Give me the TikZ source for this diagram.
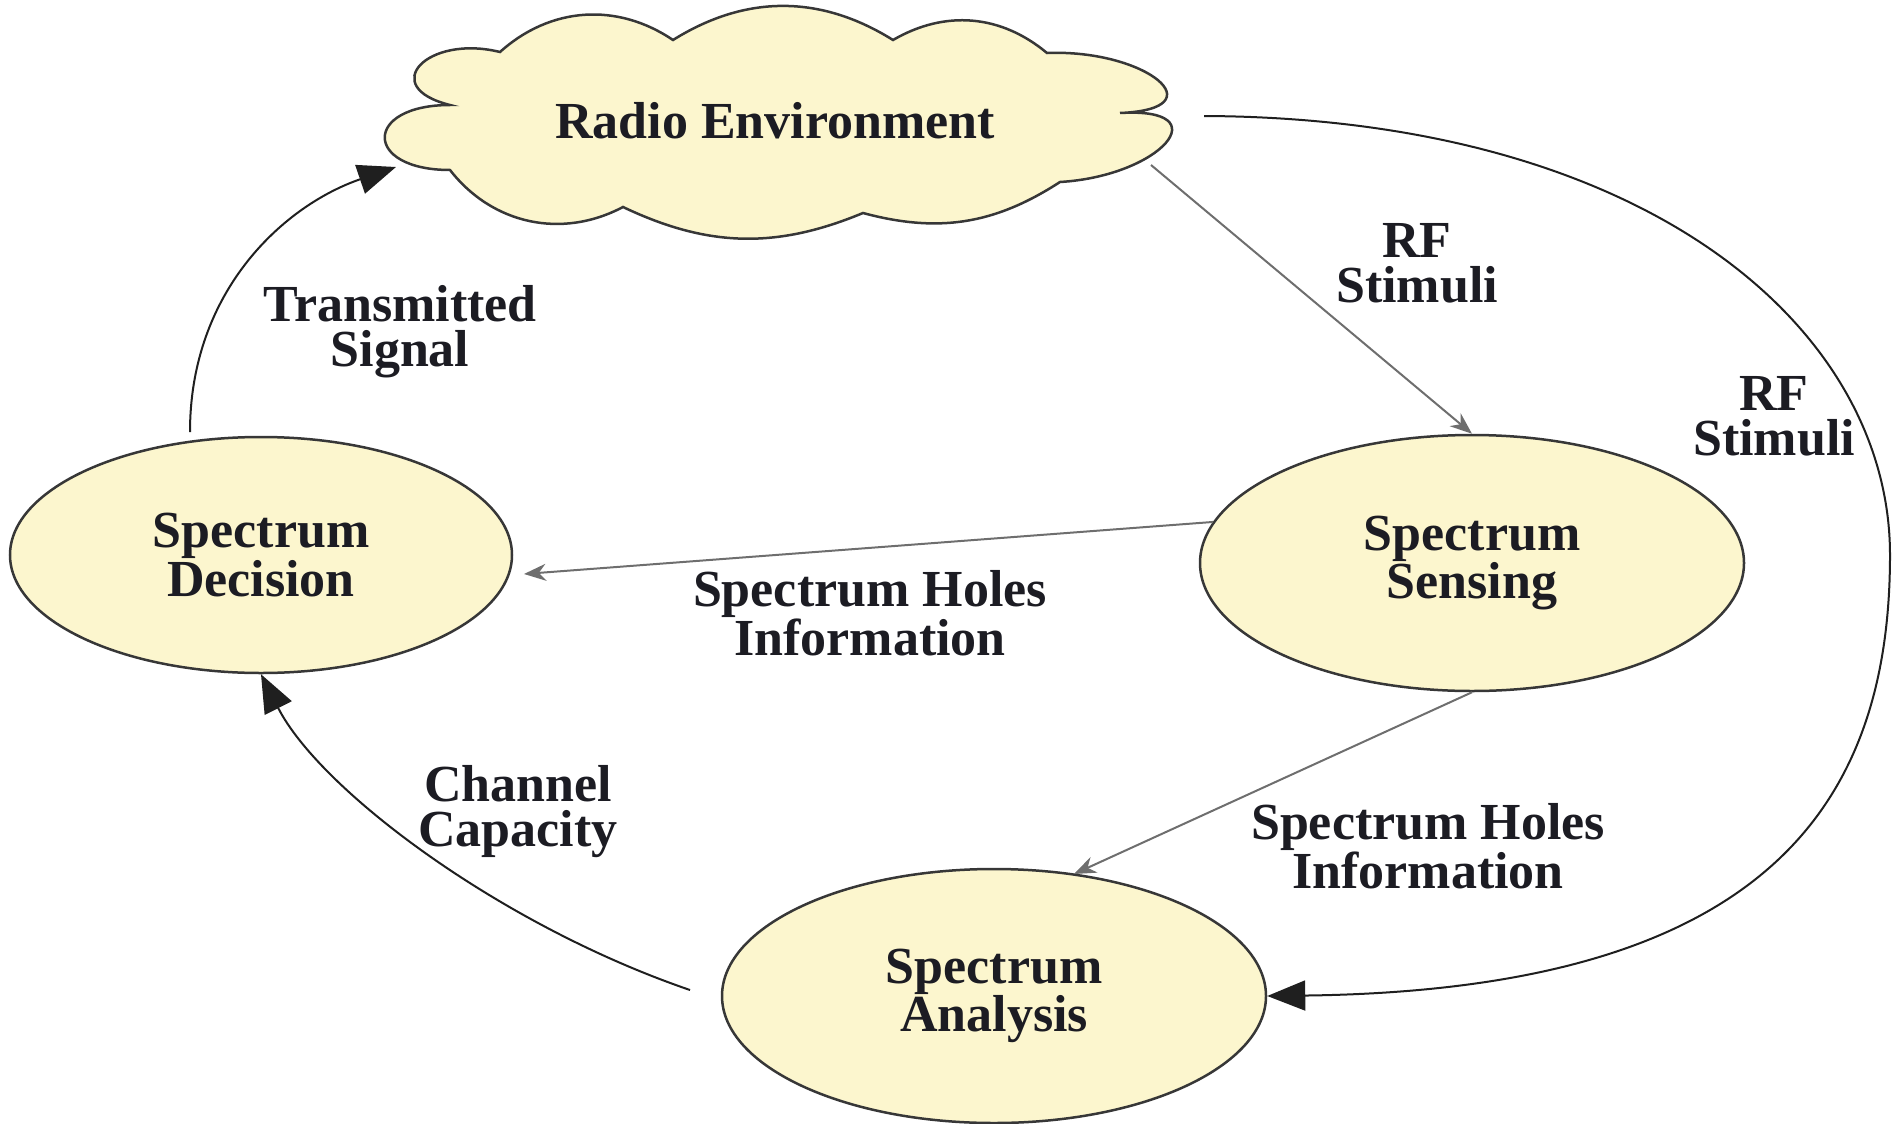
\documentclass[tikz,border=0pt]{standalone}
\usepackage{fontspec}
\setmainfont{Liberation Serif}
\usetikzlibrary{shapes.geometric,arrows.meta}
\definecolor{fillY}{RGB}{252,246,206}
\definecolor{edgeC}{RGB}{55,55,55}
\definecolor{grayA}{RGB}{110,110,110}
\definecolor{txtC}{RGB}{28,28,35}
\begin{document}
\begin{tikzpicture}[x=1pt,y=-1pt,
  every node/.style={font=\bfseries\fontsize{52}{45}\selectfont, text=txtC, align=center},
  blob/.style={ellipse, draw=edgeC, line width=2.5pt, fill=fillY, inner sep=0pt},
  cloudline/.style={draw=edgeC, line width=2.5pt, fill=fillY, line join=miter},
  grayarrow/.style={draw=grayA, line width=2pt, -{Stealth[length=22pt,width=17pt]}},
  bigarrow/.style={draw=black!88, line width=2pt, -{Triangle[length=38pt,width=30pt]}}]
\useasboundingbox (0,0) rectangle (1893,1124);
% cloud outline
\draw[cloudline] (500,52)
  to[bend left=38] (673,40)
  to[bend left=32] (893,40)
  to[bend left=35] (1047,53)
  .. controls (1146,49) and (1219,109) .. (1120,113)
  .. controls (1221,107) and (1161,176) .. (1060,182)
  to[bend left=24] (863,213)
  to[bend left=24] (623,207)
  to[bend left=40] (450,170)
  .. controls (363,170) and (363,105) .. (450,105)
  .. controls (377,87) and (427,34) .. (500,52) -- cycle;
% nodes
\node[inner sep=0pt, minimum width=782pt, minimum height=222pt] (env) at (775,121) {Radio Environment};
\node[blob, minimum width=502pt, minimum height=236pt] (dec) at (261,555) {Spectrum\\Decision};
\node[blob, minimum width=544pt, minimum height=256pt] (sens) at (1472,563) {Spectrum\\Sensing};
\node[blob, minimum width=544pt, minimum height=254pt] (ana) at (994,996) {Spectrum\\Analysis};
% free ends
\coordinate (envSE) at (1151,165);
\coordinate (envR) at (1204,116);
\coordinate (envSW) at (396,167);
\coordinate (decTop) at (190,432);
\coordinate (anaW) at (690,990);
\coordinate (decE) at (524,574);
\coordinate (anaNE) at (1074,874);
% connectors
\draw[grayarrow] (envSE) -- (sens.north);
\draw[grayarrow] (sens.171.5) -- (decE);
\draw[grayarrow] (sens.south) -- (anaNE);
\draw[bigarrow] (envR) .. controls (1650,118) and (1890,330) .. (1890,555)
                      .. controls (1890,810) and (1760,990) .. (ana.east);
\draw[bigarrow] (anaW) .. controls (500,925) and (320,790) .. (dec.south);
\draw[bigarrow] (decTop) .. controls (190,290) and (285,205) .. (envSW);
% labels
\node (l1) at (400,332) {Transmitted\\Signal};
\node (l2) at (1417,263) {RF\\Stimuli};
\node (l3) at (1774,416) {RF\\Stimuli};
\node (l4) at (870,613) {Spectrum Holes\\Information};
\node (l5) at (1428,846) {Spectrum Holes\\Information};
\node (l6) at (518,812) {Channel\\Capacity};
\end{tikzpicture}
\end{document}
